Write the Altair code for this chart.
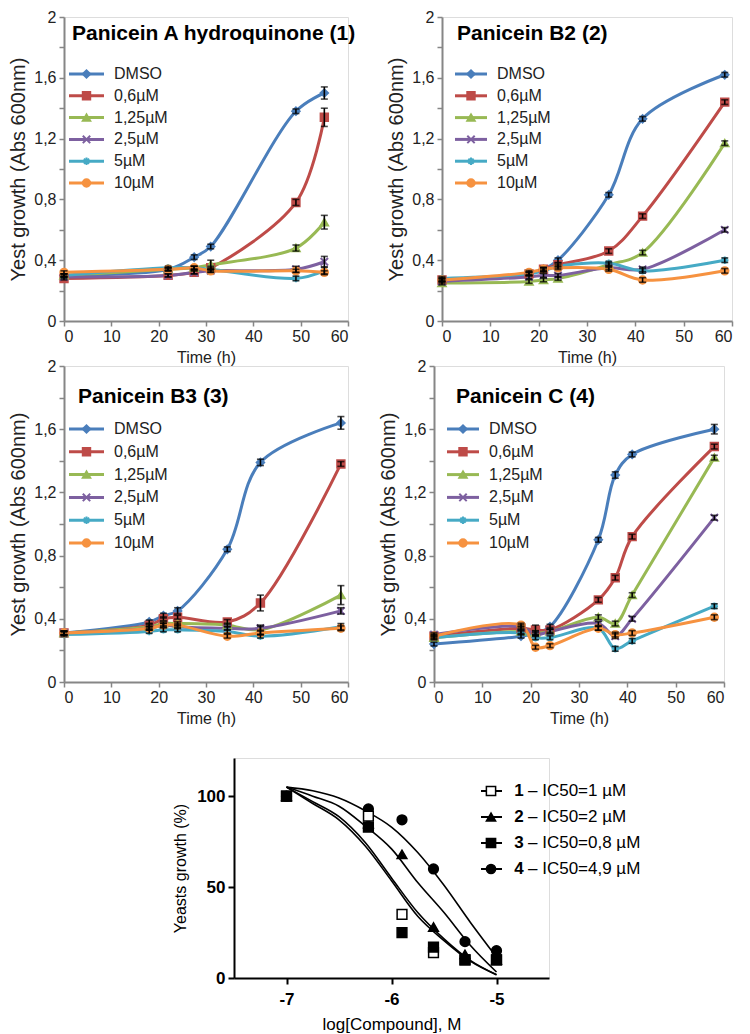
import altair as alt
import pandas as pd

FONT = "Liberation Sans"
GRAY = "#868686"
TXT = "#222222"

SERIES = ["DMSO", "0,6µM", "1,25µM", "2,5µM", "5µM", "10µM"]
LEGEND_ROW = [0, 1, 2, 3, 4, 5]
COLORS = ["#4A7EBB", "#BE4B48", "#98B954", "#7D60A0", "#46AAC5", "#F69240"]
SHAPES = [
    "diamond",
    "square",
    "triangle-up",
    "M-1,-1L1,1M-1,1L1,-1",
    "M-1,0L1,0M0,-1L0,1M-0.7,-0.7L0.7,0.7M-0.7,0.7L0.7,-0.7",
    "circle",
]

X_TICKS = [0, 10, 20, 30, 40, 50, 60]
Y_TICKS = [0, 0.2, 0.4, 0.6, 0.8, 1.0, 1.2, 1.4, 1.6, 1.8, 2.0]
Y_LABELED = ["0", "0.4", "0.8", "1.2", "1.6", "2"]

# ---- Panel 1: Panicein A hydroquinone (1)
P1_TITLE = "Panicein A hydroquinone (1)"
P1_TIME = [0, 22, 27.5, 31, 49, 55]
P1_DMSO = [0.30, 0.34, 0.42, 0.49, 1.38, 1.50]
P1_C06 = [0.28, 0.30, 0.32, 0.35, 0.78, 1.34]
P1_C125 = [0.30, 0.34, 0.35, 0.37, 0.48, 0.65]
P1_C25 = [0.29, 0.30, 0.32, 0.33, 0.34, 0.39]
P1_C5 = [0.30, 0.35, 0.35, 0.34, 0.28, 0.33]
P1_C10 = [0.32, 0.34, 0.35, 0.33, 0.33, 0.32]
P1_E_DMSO = [0.01, 0.01, 0.015, 0.015, 0.015, 0.04]
P1_E_C06 = [0.01, 0.01, 0.01, 0.01, 0.02, 0.06]
P1_E_C125 = [0.01, 0.01, 0.01, 0.03, 0.02, 0.045]
P1_E_C25 = [0.01, 0.01, 0.01, 0.01, 0.02, 0.035]
P1_E_C5 = [0.01, 0.01, 0.01, 0.01, 0.015, 0.025]
P1_E_C10 = [0.01, 0.01, 0.01, 0.01, 0.01, 0.01]

# ---- Panel 2: Panicein B2 (2)
P2_TITLE = "Panicein B2 (2)"
P2_TIME = [0, 18, 21, 24, 34.5, 41.5, 58.5]
P2_DMSO = [0.27, 0.31, 0.34, 0.40, 0.83, 1.33, 1.62]
P2_C06 = [0.27, 0.31, 0.34, 0.37, 0.46, 0.69, 1.44]
P2_C125 = [0.25, 0.26, 0.27, 0.28, 0.37, 0.45, 1.17]
P2_C25 = [0.26, 0.29, 0.30, 0.30, 0.35, 0.34, 0.60]
P2_C5 = [0.28, 0.31, 0.33, 0.36, 0.38, 0.33, 0.40]
P2_C10 = [0.27, 0.32, 0.34, 0.35, 0.34, 0.27, 0.33]
P2_E_DMSO = [0.012, 0.012, 0.012, 0.015, 0.015, 0.015, 0.015]
P2_E_C06 = [0.012, 0.012, 0.012, 0.012, 0.015, 0.015, 0.015]
P2_E_C125 = [0.012, 0.012, 0.012, 0.012, 0.012, 0.015, 0.015]
P2_E_C25 = [0.012, 0.012, 0.012, 0.012, 0.012, 0.015, 0.015]
P2_E_C5 = [0.012, 0.012, 0.012, 0.012, 0.012, 0.015, 0.015]
P2_E_C10 = [0.012, 0.012, 0.012, 0.012, 0.012, 0.015, 0.015]

# ---- Panel 3: Panicein B3 (3)
P3_TITLE = "Panicein B3 (3)"
P3_TIME = [0, 18, 21, 24, 34.5, 41.5, 58.5]
P3_DMSO = [0.31, 0.38, 0.42, 0.45, 0.84, 1.39, 1.64]
P3_C06 = [0.31, 0.36, 0.40, 0.41, 0.38, 0.50, 1.38]
P3_C125 = [0.31, 0.35, 0.37, 0.37, 0.36, 0.33, 0.55]
P3_C25 = [0.31, 0.34, 0.36, 0.35, 0.34, 0.34, 0.45]
P3_C5 = [0.30, 0.32, 0.33, 0.33, 0.32, 0.29, 0.35]
P3_C10 = [0.31, 0.34, 0.36, 0.36, 0.29, 0.31, 0.34]
P3_E_DMSO = [0.012, 0.012, 0.015, 0.02, 0.015, 0.02, 0.04]
P3_E_C06 = [0.012, 0.012, 0.012, 0.012, 0.015, 0.05, 0.015]
P3_E_C125 = [0.012, 0.012, 0.012, 0.012, 0.012, 0.03, 0.06]
P3_E_C25 = [0.012, 0.012, 0.012, 0.012, 0.012, 0.012, 0.02]
P3_E_C5 = [0.012, 0.012, 0.012, 0.012, 0.012, 0.012, 0.02]
P3_E_C10 = [0.012, 0.012, 0.012, 0.012, 0.012, 0.012, 0.015]

# ---- Panel 4: Panicein C (4)
P4_TITLE = "Panicein C (4)"
P4_TIME = [0, 18, 21, 24, 34, 37.5, 41, 58]
P4_DMSO = [0.24, 0.29, 0.31, 0.35, 0.90, 1.31, 1.44, 1.60]
P4_C06 = [0.29, 0.34, 0.33, 0.33, 0.52, 0.66, 0.92, 1.49]
P4_C125 = [0.28, 0.32, 0.31, 0.32, 0.41, 0.37, 0.55, 1.42]
P4_C25 = [0.30, 0.35, 0.30, 0.32, 0.37, 0.29, 0.40, 1.04]
P4_C5 = [0.28, 0.31, 0.28, 0.28, 0.34, 0.21, 0.26, 0.48]
P4_C10 = [0.29, 0.36, 0.22, 0.23, 0.34, 0.30, 0.31, 0.41]
P4_E_DMSO = [0.012, 0.012, 0.015, 0.015, 0.015, 0.02, 0.015, 0.03]
P4_E_C06 = [0.012, 0.012, 0.03, 0.015, 0.015, 0.015, 0.015, 0.015]
P4_E_C125 = [0.012, 0.012, 0.012, 0.015, 0.015, 0.015, 0.015, 0.015]
P4_E_C25 = [0.012, 0.012, 0.012, 0.012, 0.012, 0.015, 0.015, 0.015]
P4_E_C5 = [0.012, 0.012, 0.012, 0.012, 0.012, 0.015, 0.015, 0.015]
P4_E_C10 = [0.012, 0.012, 0.012, 0.012, 0.012, 0.015, 0.015, 0.015]

# ---- Dose-response panel
DR_X = [-7, -6.22, -5.9, -5.6, -5.3, -5]
DR_C1 = [100, 89, 35, 14, 10, 10]
DR_C2 = [100, 85, 68, 28, 13, 10]
DR_C3 = [100, 83, 25, 17, 10, 10]
DR_C4 = [100, 93, 87, 60, 20, 15]
FIT_X = [-7, -6.75, -6.5, -6.25, -6, -5.75, -5.5, -5.25, -5]
FIT_C1 = [105, 97, 88.7, 74.5, 55, 36, 21.5, 9.7, 1.8]
FIT_C2 = [105, 100, 94.5, 83.6, 71, 52.5, 36, 18, 3.3]
FIT_C3 = [105, 96, 87, 72.6, 53.5, 34, 20.6, 9.3, 1.8]
FIT_C4 = [105, 103, 99, 92, 83, 69, 51, 30.7, 11.5]
DR_IDS = ["1", "2", "3", "4"]
DR_ROW = [0, 1, 2, 3]
DR_LABELS = ["– IC50=1 µM", "– IC50=2 µM", "– IC50=0,8 µM", "– IC50=4,9 µM"]
DR_SHAPES = ["square", "triangle-up", "square", "circle"]
DR_FILLS = ["white", "black", "black", "black"]


def growth_panel(title, times, values, errors, w, h, title_xy, leg_x, leg_y):
    rows = []
    for s, vals, errs in zip(SERIES, values, errors):
        for t, v, e in zip(times, vals, errs):
            rows.append({"series": s, "time": t, "value": v, "lo": v - e, "hi": v + e})
    df = pd.DataFrame(rows)

    label_expr = (
        "indexof(" + str(Y_LABELED) + ", format(datum.value, '.1~f')) >= 0 ? "
        "replace(format(datum.value, '.1~f'), '.', ',') : ''"
    )
    xax = alt.Axis(values=X_TICKS, title="Time (h)", grid=False, domainColor=GRAY, domainWidth=2,
                   tickColor=GRAY, tickWidth=1.5, tickSize=5, labelFont=FONT, labelFontSize=16,
                   labelColor=TXT, titleFont=FONT, titleFontSize=16, titleFontWeight="normal",
                   titleColor=TXT, labelPadding=2, titlePadding=5)
    yax = alt.Axis(values=Y_TICKS, labelExpr=label_expr, labelOverlap=False, title="Yest growth (Abs 600nm)",
                   grid=False, domainColor=GRAY, domainWidth=2, tickColor=GRAY, tickWidth=1.5, tickSize=5,
                   labelFont=FONT, labelFontSize=16, labelColor=TXT, titleFont=FONT, titleFontSize=20,
                   titleFontWeight="normal", titleColor=TXT, labelPadding=3, titlePadding=5)
    x = alt.X("time:Q", scale=alt.Scale(domain=[0, 60], nice=False), axis=xax)
    y = alt.Y("value:Q", scale=alt.Scale(domain=[0, 2], nice=False), axis=yax)
    col = alt.Color("series:N", scale=alt.Scale(domain=SERIES, range=COLORS), legend=None)
    fill = alt.Fill("series:N", scale=alt.Scale(domain=SERIES, range=COLORS), legend=None)
    stroke = alt.Stroke("series:N", scale=alt.Scale(domain=SERIES, range=COLORS), legend=None)
    shape = alt.Shape("series:N", scale=alt.Scale(domain=SERIES, range=SHAPES), legend=None)

    base = alt.Chart(df)
    lines = base.mark_line(strokeWidth=3, interpolate="catmull-rom").encode(x=x, y=y, color=col)
    pts = base.mark_point(filled=True, size=55, strokeWidth=2, opacity=1).encode(
        x=x, y=y, fill=fill, stroke=stroke, shape=shape)
    errs = base.mark_errorbar(ticks=True, size=7, thickness=1.6, color="black").encode(
        x=x, y=alt.Y("lo:Q", scale=alt.Scale(domain=[0, 2], nice=False), axis=yax), y2="hi:Q")

    leg = alt.Chart(pd.DataFrame({"series": SERIES, "row": LEGEND_ROW}))
    ly = alt.Y("row:Q", scale=alt.Scale(domain=[0, 5], range=leg_y, nice=False, zero=False), axis=None)
    l_rule = leg.mark_rule(strokeWidth=3).encode(
        x=alt.value(leg_x[0]), x2=alt.value(leg_x[1]), y=ly, color=col)
    l_pt = leg.mark_point(filled=True, size=55, strokeWidth=2, opacity=1).encode(
        x=alt.value((leg_x[0] + leg_x[1]) / 2), y=ly, fill=fill, stroke=stroke, shape=shape)
    l_txt = leg.mark_text(align="left", baseline="middle", font=FONT, fontSize=16, color=TXT).encode(
        x=alt.value(leg_x[2]), y=ly, text="series:N")

    ttl = alt.Chart(pd.DataFrame({"t": [title]})).mark_text(
        align="left", baseline="middle", font=FONT, fontSize=21, fontWeight="bold", color="black"
    ).encode(x=alt.value(title_xy[0]), y=alt.value(title_xy[1]), text="t:N")

    return alt.layer(
        alt.layer(lines, pts, errs),
        alt.layer(l_rule, l_pt, l_txt),
        ttl,
    ).resolve_scale(y="independent").properties(width=w, height=h)


def dose_panel(w, h):
    pts_rows = []
    for cid, vals in zip(["4", "2", "1", "3"], [DR_C4, DR_C2, DR_C1, DR_C3]):
        for xv, yv in zip(DR_X, vals):
            pts_rows.append({"cmp": cid, "x": xv, "y": yv})
    fit_rows = []
    for cid, vals in zip(DR_IDS, [FIT_C1, FIT_C2, FIT_C3, FIT_C4]):
        for xv, yv in zip(FIT_X, vals):
            fit_rows.append({"cmp": cid, "x": xv, "y": yv})
    pdf = pd.DataFrame(pts_rows)
    fdf = pd.DataFrame(fit_rows)

    xax = alt.Axis(values=[-7, -6, -5], labelExpr="'' + datum.value", title="log[Compound], M", grid=False,
                   domainColor="black", domainWidth=2, tickColor="black", tickWidth=2, tickSize=6,
                   labelFont=FONT, labelFontSize=17, labelFontWeight="bold", labelColor="black",
                   titleFont=FONT, titleFontSize=17, titleFontWeight="normal", titleColor="black",
                   labelPadding=7, titlePadding=9)
    yax = alt.Axis(values=[0, 50, 100], title="Yeasts growth (%)", grid=False,
                   domainColor="black", domainWidth=2, tickColor="black", tickWidth=2, tickSize=6,
                   labelFont=FONT, labelFontSize=17, labelFontWeight="bold", labelColor="black",
                   titleFont=FONT, titleFontSize=16, titleFontWeight="normal", titleColor="black",
                   labelPadding=3, titlePadding=8)
    x = alt.X("x:Q", scale=alt.Scale(domain=[-7.5, -4.5], nice=False, zero=False), axis=xax)
    y = alt.Y("y:Q", scale=alt.Scale(domain=[0, 121], nice=False), axis=yax)
    shape = alt.Shape("cmp:N", scale=alt.Scale(domain=DR_IDS, range=DR_SHAPES), legend=None)
    fill = alt.Fill("cmp:N", scale=alt.Scale(domain=DR_IDS, range=DR_FILLS), legend=None)

    curves = alt.Chart(fdf).mark_line(color="black", strokeWidth=1.6, interpolate="monotone").encode(
        x=x, y=y, detail="cmp:N")
    marks = alt.Chart(pdf).mark_point(filled=True, size=95, stroke="black", strokeWidth=1.5, opacity=1).encode(
        x=x, y=y, shape=shape, fill=fill)

    ldf = pd.DataFrame({"cmp": DR_IDS, "label": DR_LABELS, "row": DR_ROW})
    leg = alt.Chart(ldf)
    ly = alt.Y("row:Q", scale=alt.Scale(domain=[0, 3], range=[33, 111], nice=False, zero=False), axis=None)
    l_rule = leg.mark_rule(color="black", strokeWidth=2).encode(x=alt.value(247), x2=alt.value(268), y=ly)
    l_pt = leg.mark_point(filled=True, size=85, stroke="black", strokeWidth=1.5, opacity=1).encode(
        x=alt.value(257), y=ly, shape=shape, fill=fill)
    l_num = leg.mark_text(align="center", baseline="middle", font=FONT, fontSize=17, fontWeight="bold",
                          color="black").encode(x=alt.value(285), y=ly, text="cmp:N")
    l_txt = leg.mark_text(align="left", baseline="middle", font=FONT, fontSize=17, color="black").encode(
        x=alt.value(294), y=ly, text="label:N")

    return alt.layer(
        alt.layer(curves, marks),
        alt.layer(l_rule, l_pt, l_num, l_txt),
    ).resolve_scale(y="independent").properties(width=w, height=h)


LEFT_LEG_X = [5, 40, 50]
RIGHT_LEG_X = [13, 45, 55]

p1 = growth_panel(P1_TITLE, P1_TIME,
                  [P1_DMSO, P1_C06, P1_C125, P1_C25, P1_C5, P1_C10],
                  [P1_E_DMSO, P1_E_C06, P1_E_C125, P1_E_C25, P1_E_C5, P1_E_C10],
                  284, 304, (8, 17), LEFT_LEG_X, [57, 166])
p2 = growth_panel(P2_TITLE, P2_TIME,
                  [P2_DMSO, P2_C06, P2_C125, P2_C25, P2_C5, P2_C10],
                  [P2_E_DMSO, P2_E_C06, P2_E_C125, P2_E_C25, P2_E_C5, P2_E_C10],
                  290, 304, (15, 17), RIGHT_LEG_X, [57, 166])
p3 = growth_panel(P3_TITLE, P3_TIME,
                  [P3_DMSO, P3_C06, P3_C125, P3_C25, P3_C5, P3_C10],
                  [P3_E_DMSO, P3_E_C06, P3_E_C125, P3_E_C25, P3_E_C5, P3_E_C10],
                  284, 316, (14, 31), LEFT_LEG_X, [63, 177])
p4 = growth_panel(P4_TITLE, P4_TIME,
                  [P4_DMSO, P4_C06, P4_C125, P4_C25, P4_C5, P4_C10],
                  [P4_E_DMSO, P4_E_C06, P4_E_C125, P4_E_C25, P4_E_C5, P4_E_C10],
                  290, 316, (22, 31), RIGHT_LEG_X, [63, 177])

spacer = alt.Chart(pd.DataFrame({"v": [0]})).mark_point(opacity=0).encode(
    x=alt.value(0), y=alt.value(0)
).properties(width=108, height=10, view=alt.ViewBackground(stroke="transparent", strokeWidth=0))

top = alt.vconcat(
    alt.hconcat(p1, p2, spacing=28),
    alt.hconcat(p3, p4, spacing=28),
    spacing=-10,
)
bottom = alt.hconcat(spacer, dose_panel(315, 220), spacing=0)

chart = alt.vconcat(top, bottom, spacing=28).resolve_scale(
    shape="independent", fill="independent", stroke="independent", color="independent"
).properties(
    padding={"left": 0, "top": 0, "right": 0, "bottom": 0}
).configure_view(strokeWidth=0, stroke="transparent").configure(background="white")

chart.save("out.html", embed_options={"renderer": "svg", "actions": False})
